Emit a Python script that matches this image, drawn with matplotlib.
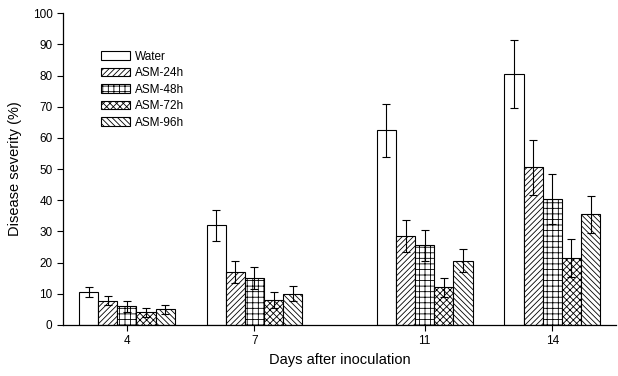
import matplotlib.pyplot as plt
import numpy as np

plt.rcParams['font.family'] = ['Liberation Sans', 'DejaVu Sans']
plt.rcParams['hatch.linewidth'] = 0.6

# data
days = [4, 7, 11, 14]
series = ["Water", "ASM-24h", "ASM-48h", "ASM-72h", "ASM-96h"]
water = [10.5, 32, 62.5, 80.5]
asm24 = [7.8, 17, 28.5, 50.5]
asm48 = [6, 15, 25.5, 40.5]
asm72 = [4, 8, 12, 21.5]
asm96 = [5, 10, 20.5, 35.5]
err_water = [1.5, 5, 8.5, 11]
err_24 = [1.5, 3.5, 5, 8.7]
err_48 = [1.8, 3.5, 5, 8]
err_72 = [1.5, 2.5, 3, 6]
err_96 = [1.5, 2.5, 3.7, 6]

values = [water, asm24, asm48, asm72, asm96]
errors = [err_water, err_24, err_48, err_72, err_96]
hatches = ["", "//////", "+++", "xxxxx", "\\\\\\\\\\\\"]

fig = plt.figure(figsize=(6.18, 3.76), dpi=100)
ax = fig.add_axes([0.102, 0.136, 0.895, 0.829])

x = np.array(days, dtype=float)
w = 0.45
for i, (vals, errs) in enumerate(zip(values, errors)):
    pos = x + (i - 2) * w
    ax.bar(pos, vals, width=w, color="white", edgecolor="black",
           linewidth=0.8, hatch=hatches[i], label=series[i])
    ax.errorbar(pos, vals, yerr=errs, fmt="none", ecolor="black",
                elinewidth=0.8, capsize=3, capthick=0.8)

ax.set_xlim(2.5, 15.5)
ax.set_ylim(0, 100)
ax.set_xticks(days)
ax.set_xticklabels([str(d) for d in days])
ax.set_yticks(range(0, 101, 10))
ax.tick_params(axis="both", labelsize=8.5, direction="out", length=4, width=0.8)
ax.spines["top"].set_visible(False)
ax.spines["right"].set_visible(False)
ax.spines["left"].set_linewidth(0.9)
ax.spines["bottom"].set_linewidth(0.9)
ax.set_xlabel("Days after inoculation", fontsize=10.5)
ax.set_ylabel("Disease severity (%)", fontsize=10.5, labelpad=8)

ax.legend(loc="upper left", bbox_to_anchor=(0.06, 0.895), frameon=False,
          fontsize=8.5, handlelength=2.5, handleheight=0.75,
          labelspacing=0.38, handletextpad=0.4, borderaxespad=0)

fig.savefig("out.png", dpi=100)
